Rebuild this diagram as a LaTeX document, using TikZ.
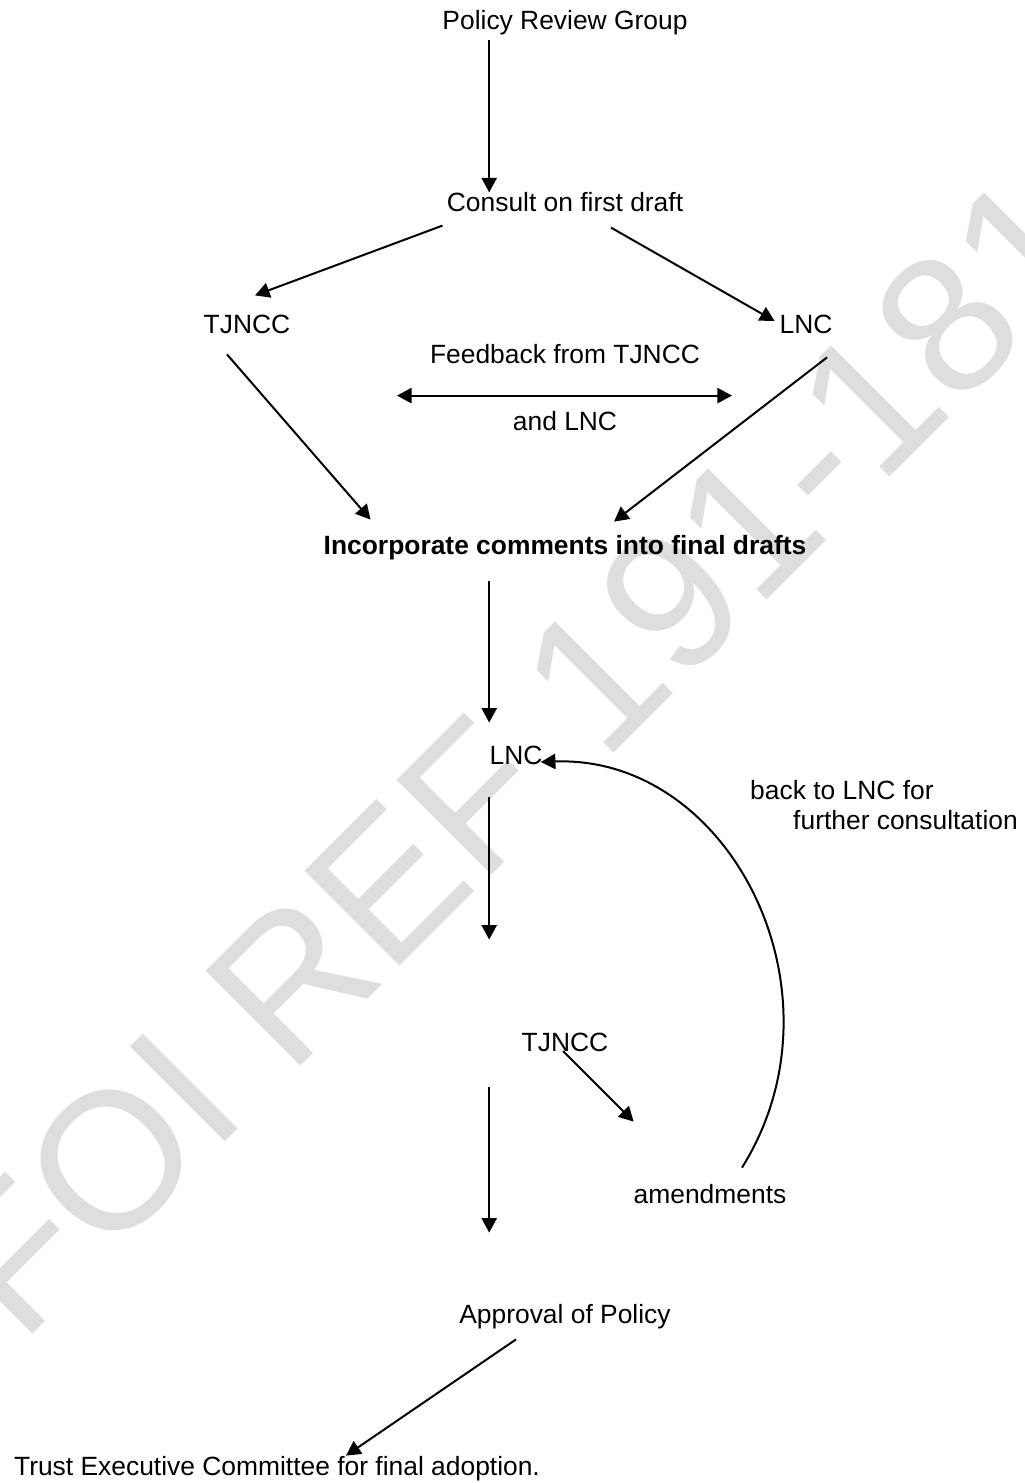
\documentclass[tikz,border=0pt]{standalone}
\usepackage{fontspec}
\setmainfont{Liberation Sans}
\usetikzlibrary{arrows.meta}
\usetikzlibrary{positioning}

\begin{document}
\begin{tikzpicture}[x=0.5pt, y=-0.5pt, on grid,
    >={Triangle[length=7.3pt,width=7.6pt]},
    lbl/.style={font=\fontsize{13.2}{15}\selectfont, inner sep=0pt, text height=9.5pt, text depth=2.7pt},
    boldlbl/.style={lbl, font=\fontsize{13.2}{15}\selectfont\bfseries},
    note/.style={font=\fontsize{13.2}{15}\selectfont, inner sep=0pt, align=left},
    flow/.style={->, line width=1pt},
    wmark/.style={font=\fontsize{97.5}{115}\selectfont, text=black!13, inner sep=0pt, rotate=45}]
  \useasboundingbox (0,0) rectangle (1024,1483);

  % Watermark, behind everything
  \node[wmark] (wm) at (518,754) {FOI REF 191-181};

  % Nodes
  \node[lbl] (prg) at (565,23) {Policy Review Group};
  \node[lbl, below=91pt of prg] (consult) {Consult on first draft};
  \node[lbl, below left=61pt and 159pt of consult] (tjA) {TJNCC};          % first round
  \node[lbl, below right=61pt and 120.5pt of consult] (lncA) {LNC};
  \node[lbl, below=76pt of consult] (fbTop) {Feedback from TJNCC};
  \node[lbl, below=33.5pt of fbTop] (fbBot) {and LNC};
  \node[boldlbl, below=62pt of fbBot] (incorp) {Incorporate comments into final drafts};
  \node[lbl, below left=105pt and 24.5pt of incorp] (lncB) {LNC};         % second round
  \node[note, below right=23.5pt and 184pt of lncB] (back) {back to LNC for\\\hspace*{21.5pt}further consultation};
  \node[lbl, below right=143.5pt and 24.5pt of lncB] (tjB) {TJNCC};
  \node[lbl, below right=76pt and 72.5pt of tjB] (amend) {amendments};
  \node[lbl, below=136pt of tjB] (approval) {Approval of Policy};
  \node[lbl, below left=76pt and 144pt of approval] (trust) {Trust Executive Committee for final adoption.};

  % Connectors
  \draw[flow, shorten <=2.4pt] (prg.south -| lncB.west) -- (consult.north -| lncB.west);
  \draw[flow] ([shift={(-2pt,-4pt)}]consult.south west) -- ([shift={(4pt,9.5pt)}]tjA.north);
  \draw[flow] ([shift={(23pt,-5pt)}]consult.south) -- ([shift={(-2.3pt,3pt)}]lncA.west);
  \draw[flow, <->] ([shift={(-84pt,-13pt)}]fbTop.south) -- ([shift={(83.5pt,-13pt)}]fbTop.south);
  \draw[flow] ([shift={(-10pt,-7.4pt)}]tjA.south) -- ([shift={(23.6pt,7.9pt)}]incorp.north west);
  \draw[flow] ([shift={(10.5pt,-8.9pt)}]lncA.south) -- ([shift={(24.5pt,6.9pt)}]incorp.north);

  % down the middle column
  \draw[flow, shorten <=10.4pt, shorten >=11.4pt] (incorp.south -| lncB.west) -- (lncB.north west);
  \draw[flow, shorten <=13.4pt, shorten >=46.4pt] (lncB.south west) -- (tjB.north -| lncB.west);
  \draw[flow, shorten <=14.9pt, shorten >=35.9pt] (tjB.south -| lncB.west) -- (approval.north -| lncB.west);

  % amendments loop back to LNC
  \draw[flow] ([shift={(-1pt,-3pt)}]tjB.center) -- ([shift={(0.2pt,31.4pt)}]amend.north west);
  \draw[flow] ([shift={(16pt,8.4pt)}]amend.north) .. controls +(54.5pt,87pt) and +(95pt,3.5pt) .. ([shift={(-1pt,-2pt)}]lncB.east);

  \draw[flow] ([shift={(-24.5pt,-4.9pt)}]approval.south) -- ([shift={(34.5pt,0.4pt)}]trust.north);
\end{tikzpicture}
\end{document}
